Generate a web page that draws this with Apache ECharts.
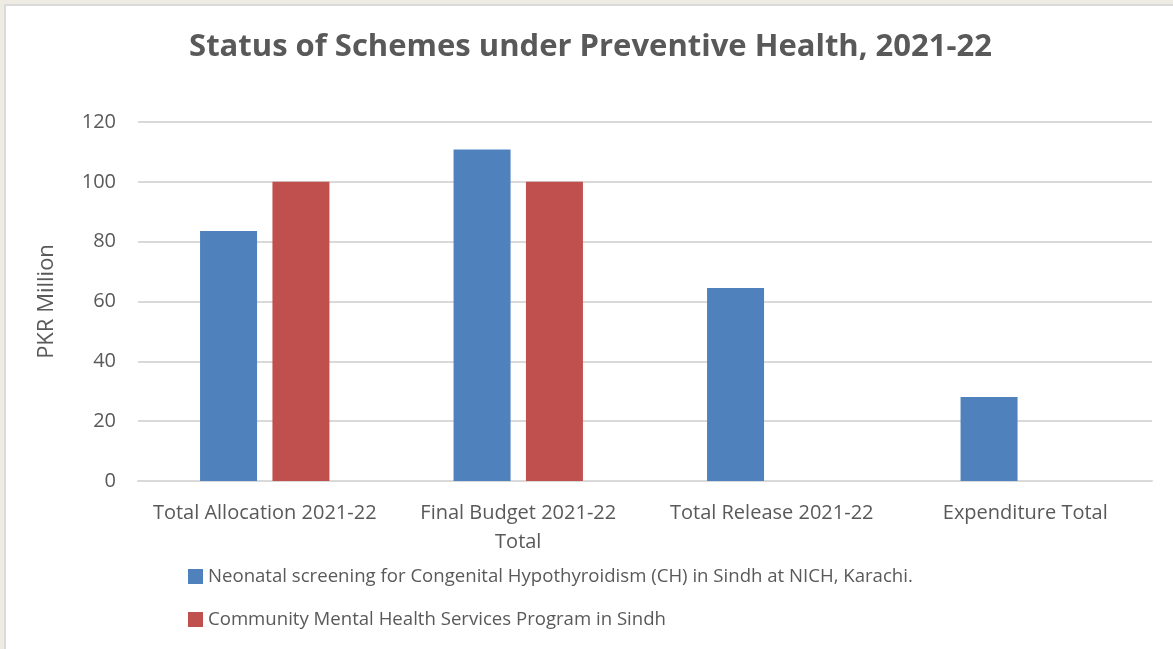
<!DOCTYPE html>
<html>
<head>
<meta charset="utf-8">
<script src="https://cdn.jsdelivr.net/npm/echarts@6/dist/echarts.min.js"></script>
<style>
  html, body { margin: 0; padding: 0; background: #eeebe2; }
  #myChartMain {
    position: absolute; left: 4px; top: 4px;
    width: 1169px; height: 645px;
    background: #ffffff;
    border-top: 2px solid #dadada; border-left: 2px solid #dadada;
  }
</style>
</head>
<body>
<div id="myChartMain"></div>
<script>
// 数据
var categories = ['Total Allocation 2021-22', 'Final Budget 2021-22\nTotal', 'Total Release 2021-22', 'Expenditure Total'];
var neonatalValues = [83.6, 110.8, 64.5, 28.1];
var mentalValues = [100, 100, 0, 0];
var seriesNames = [
    'Neonatal screening for Congenital Hypothyroidism (CH) in Sindh at NICH, Karachi.',
    'Community Mental Health Services Program in Sindh'
];

var myChart = echarts.init(document.getElementById('myChartMain'));
var font = 'Open Sans';
var textColor = '#595959';

var option = {
    animation: false,
    title: {
        text: 'Status of Schemes under Preventive Health, 2021-22',
        left: 'center',
        top: 21,
        textStyle: { fontFamily: font, fontSize: 31, fontWeight: 'bold', color: textColor }
    },
    legend: {
        orient: 'vertical',
        left: 177,
        top: 556,
        itemWidth: 15,
        itemHeight: 15,
        itemGap: 24,
        icon: 'rect',
        textStyle: { fontFamily: font, fontSize: 18.6, color: textColor },
        data: seriesNames
    },
    grid: { left: 132, right: 23, top: 116, bottom: 170 },
    xAxis: {
        type: 'category',
        data: categories,
        axisLine: { lineStyle: { color: '#d9d9d9', width: 2 } },
        axisTick: { show: false },
        axisLabel: { interval: 0, fontFamily: font, fontSize: 20, color: textColor, margin: 18, lineHeight: 29 }
    },
    yAxis: {
        type: 'value',
        min: 0, max: 120, interval: 20,
        name: 'PKR Million',
        nameLocation: 'middle',
        nameGap: 80,
        nameTextStyle: { fontFamily: font, fontSize: 22, color: textColor },
        axisLine: { show: false },
        axisTick: { show: false },
        axisLabel: { fontFamily: font, fontSize: 20, color: textColor, margin: 22 },
        splitLine: { lineStyle: { color: '#d9d9d9', width: 2 } }
    },
    series: [
        {
            name: seriesNames[0],
            type: 'bar',
            barWidth: 57,
            barGap: '27%',
            itemStyle: { color: '#4f81bd' },
            data: neonatalValues
        },
        {
            name: seriesNames[1],
            type: 'bar',
            barWidth: 57,
            itemStyle: { color: '#c0504d' },
            data: mentalValues
        }
    ]
};

myChart.setOption(option);
</script>
</body>
</html>
